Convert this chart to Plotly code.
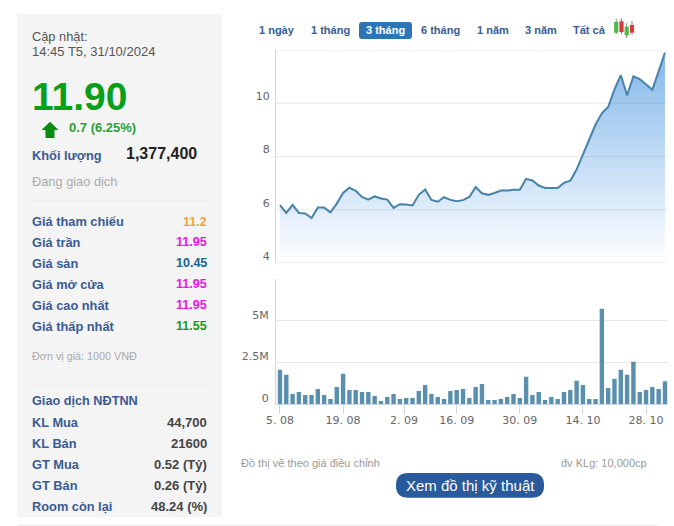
import plotly.graph_objects as go

W, H = 674, 526

price = [6.17, 5.88, 6.18, 5.88, 5.86, 5.69, 6.08, 6.08, 5.90, 6.23,
         6.63, 6.83, 6.71, 6.48, 6.38, 6.50, 6.42, 6.38, 6.07, 6.21,
         6.20, 6.16, 6.56, 6.76, 6.37, 6.30, 6.47, 6.37, 6.32, 6.36,
         6.48, 6.85, 6.62, 6.56, 6.63, 6.72, 6.72, 6.75, 6.75, 7.16,
         7.10, 6.91, 6.82, 6.82, 6.82, 7.01, 7.09, 7.51, 8.08, 8.64,
         9.20, 9.62, 9.86, 10.52, 11.06, 10.30, 11.01, 10.91, 10.71, 10.51,
         11.20, 11.90]
volume = [2.07, 1.77, 0.62, 0.74, 0.56, 0.56, 0.92, 0.56, 0.32, 1.04,
          1.83, 0.86, 0.86, 0.74, 0.74, 0.50, 0.20, 0.44, 0.62, 0.32,
          0.38, 0.38, 0.80, 1.16, 0.62, 0.44, 0.32, 0.80, 0.86, 0.92,
          0.38, 1.04, 1.22, 0.26, 0.26, 0.32, 0.44, 0.62, 0.38, 1.65,
          0.56, 0.74, 0.26, 0.44, 0.32, 0.74, 0.86, 1.41, 1.16, 0.32,
          0.32, 5.74, 0.98, 1.53, 2.07, 1.77, 2.55, 0.74, 0.86, 1.04,
          0.92, 1.38]
days = list(range(len(price)))

# 2.09 is a holiday, so the tick falls between two sessions
date_ticks = [0, 10, 19.67, 28, 38, 48, 58]
date_labels = ["5. 08", "19. 08", "2. 09", "16. 09", "30. 09", "14. 10", "28. 10"]
price_ticks = [4, 6, 8, 10, 12]
price_labels = ["4", "6", "8", "10", ""]
vol_ticks = [0, 2.5, 5, 7.5]
vol_labels = ["0", "2.5M", "5M", ""]

range_tabs = ["1 ngày", "1 tháng", "3 tháng", "6 tháng", "1 năm", "3 năm", "Tất cả"]
tab_centers = [277, 330, 385.7, 440.7, 492.7, 540.7, 589]

quote_rows = ["Giá tham chiếu", "Giá trần", "Giá sàn", "Giá mở cửa", "Giá cao nhất", "Giá thấp nhất"]
quote_vals = ["11.2", "11.95", "10.45", "11.95", "11.95", "11.55"]
quote_cols = ["#f5a033", "#e814e8", "#17658f", "#e814e8", "#e814e8", "#1c981c"]
quote_y = [221.7, 242.3, 263.3, 284.3, 305.3, 326.3]

foreign_rows = ["KL Mua", "KL Bán", "GT Mua", "GT Bán", "Room còn lại"]
foreign_vals = ["44,700", "21600", "0.52 (Tỷ)", "0.26 (Tỷ)", "48.24 (%)"]
foreign_y = [422.3, 443.3, 464.3, 485, 506.3]

ARIAL = "Liberation Sans"
AXIS_FONT = "DejaVu Sans"
NAVY = "#3a5b92"
GRID = "#e6e6e6"
AXIS = "#ccd6eb"


def px(x):
    return x / W


def py(y):
    return 1 - y / H


def label(x, y, text, size=12, color="#555555", bold=False, anchor="left"):
    # annotations keep 1px of padding round the text
    nudge = {"left": -1, "right": 1, "center": 0}[anchor]
    fig.add_annotation(x=px(x + nudge), y=py(y), xref="paper", yref="paper", text=f"<b>{text}</b>" if bold else text,
                       showarrow=False, xanchor=anchor, yanchor="middle", borderpad=0,
                       font=dict(family=ARIAL, size=size, color=color))


def box(x0, y0, x1, y1, color, layer="below"):
    fig.add_shape(type="rect", xref="paper", yref="paper", x0=px(x0), x1=px(x1), y0=py(y0), y1=py(y1),
                  fillcolor=color, line_width=0, layer=layer)


def rounded(x0, y0, x1, y1, r, color):
    a, b, c, d = px(x0), px(x1), py(y0), py(y1)
    rx, ry = r / W, r / H
    path = (f"M {a + rx} {c} L {b - rx} {c} Q {b} {c} {b} {c - ry} L {b} {d + ry} Q {b} {d} {b - rx} {d} "
            f"L {a + rx} {d} Q {a} {d} {a} {d + ry} L {a} {c - ry} Q {a} {c} {a + rx} {c} Z")
    fig.add_shape(type="path", xref="paper", yref="paper", path=path, fillcolor=color, line_width=0, layer="below")


fig = go.Figure()

fig.add_trace(go.Scatter(x=days, y=price, mode="lines", fill="tozeroy", hoverinfo="skip",
                         line=dict(color="#4682a9", width=2),
                         fillgradient=dict(type="vertical", start=11.9, stop=4,
                                           colorscale=[[0, "#84b8ea"], [1, "#ffffff"]]),
                         xaxis="x", yaxis="y"))
fig.add_trace(go.Bar(x=days, y=volume, width=0.7, marker=dict(color="#5a90ae", line_width=0),
                     hoverinfo="skip", xaxis="x2", yaxis="y2"))

x_range = [-0.63, 61.48]
fig.update_layout(
    width=W, height=H, margin=dict(l=0, r=0, t=0, b=0), autosize=False,
    paper_bgcolor="white", plot_bgcolor="white", showlegend=False,
    xaxis=dict(domain=[px(276), px(668)], range=x_range, anchor="y", showticklabels=False, automargin=False,
               showgrid=False, zeroline=False, ticks=""),
    yaxis=dict(domain=[py(263), py(50)], range=[4, 12], anchor="x", tickvals=price_ticks, ticktext=price_labels,
               showgrid=False, zeroline=False, showline=True, linecolor=AXIS, ticks="",
               automargin=False, ticklabelshift=-7, ticklabelstandoff=3,
               tickfont=dict(family=AXIS_FONT, size=11, color="#666666")),
    xaxis2=dict(domain=[px(276), px(668)], range=x_range, anchor="y2", tickvals=date_ticks, ticktext=date_labels,
                showgrid=False, zeroline=False, showline=True, linecolor=AXIS, ticks="outside", ticklen=9,
                automargin=False, tickcolor=AXIS, tickwidth=1, ticklabelstandoff=-4,
                tickfont=dict(family=AXIS_FONT, size=11, color="#666666")),
    yaxis2=dict(domain=[py(404.3), py(279.3)], range=[0, 7.5], anchor="x2", tickvals=vol_ticks, ticktext=vol_labels,
                showgrid=True, gridcolor=GRID, gridwidth=1, zeroline=False, showline=True, linecolor=AXIS, ticks="",
                automargin=False, ticklabelshift=-6, ticklabelstandoff=4,
                tickfont=dict(family=AXIS_FONT, size=11, color="#666666")),
)

# price grid has to show through the area fill, so it sits above the traces
for tick in price_ticks:
    fig.add_shape(type="line", xref="x domain", yref="y", x0=0, x1=1, y0=tick, y1=tick, layer="above",
                  line=dict(color="rgba(120,130,150,0.18)", width=1))

# left info panel
box(17, 14, 222, 517, "#f4f4f5")
box(32, 200.3, 208, 201.3, "#ebebeb")
box(32, 384.7, 208, 385.7, "#ebebeb")
box(17, 524.8, 657, 525.8, "#e8e8e8")

label(32, 36.7, "Cập nhật:", 12.8, "#555555")
label(32, 51, "14:45 T5, 31/10/2024", 13, "#555555")
label(32, 96, "11.90", 39, "#0a9f1a", bold=True)
label(69, 128, "0.7 (6.25%)", 13, "#2d9f35", bold=True)
label(32, 155, "Khối lượng", 12.8, NAVY, bold=True)
label(197, 153, "1,377,400", 16, "#222222", bold=True, anchor="right")
label(32, 182, "Đang giao dịch", 12.8, "#aaaaaa")

fig.add_shape(type="path", xref="paper", yref="paper", fillcolor="#0b8a14", line_width=0,
              path=(f"M {px(50)} {py(121.7)} L {px(58.5)} {py(130)} L {px(54.5)} {py(130)} L {px(54.5)} {py(138)} "
                    f"L {px(45.5)} {py(138)} L {px(45.5)} {py(130)} L {px(41.5)} {py(130)} Z"))

for name, val, col, y in zip(quote_rows, quote_vals, quote_cols, quote_y):
    label(32, y, name, 12.8, NAVY, bold=True)
    label(206.7, y, val, 12.5, col, bold=True, anchor="right")

label(32, 356, "Đơn vị giá: 1000 VNĐ", 10.8, "#aaaaaa")
label(32, 401, "Giao dịch NĐTNN", 12.7, NAVY, bold=True)
for name, val, y in zip(foreign_rows, foreign_vals, foreign_y):
    label(32, y, name, 12.8, NAVY, bold=True)
    label(206.7, y, val, 13, "#444444", bold=True, anchor="right")

# range tabs
rounded(359, 22, 412, 39, 3, "#2e75b6")
for tab, cx in zip(range_tabs, tab_centers):
    label(cx, 30, tab, 11, "white" if tab == "3 tháng" else NAVY, bold=True, anchor="center")

# candle icon
candles = [(616.2, 19, 34, 22, 32.7, "#4fb848"), (621.5, 18.3, 34, 21.3, 32, "#d8383f"),
           (626.7, 23.3, 38, 26.7, 35.3, "#4fb848"), (632, 21, 35, 25, 32.7, "#d8383f")]
for cx, w0, w1, b0, b1, col in candles:
    box(cx - 0.4, w0, cx + 0.4, w1, "#666666", layer="above")
    box(cx - 2.1, b0, cx + 2.1, b1, col, layer="above")

# footer
label(241, 463, "Đồ thị vẽ theo giá điều chỉnh", 11, "#999999")
label(647, 463, "đv KLg: 10,000cp", 11, "#999999", anchor="right")
rounded(396, 473, 544, 497.7, 12, "#285a9c")
label(470, 485.3, "Xem đồ thị kỹ thuật", 15, "white", anchor="center")

fig.write_html("out.html", config=dict(displayModeBar=False, staticPlot=True),
               post_script="document.body.style.margin='0';document.body.style.overflow='hidden';")
